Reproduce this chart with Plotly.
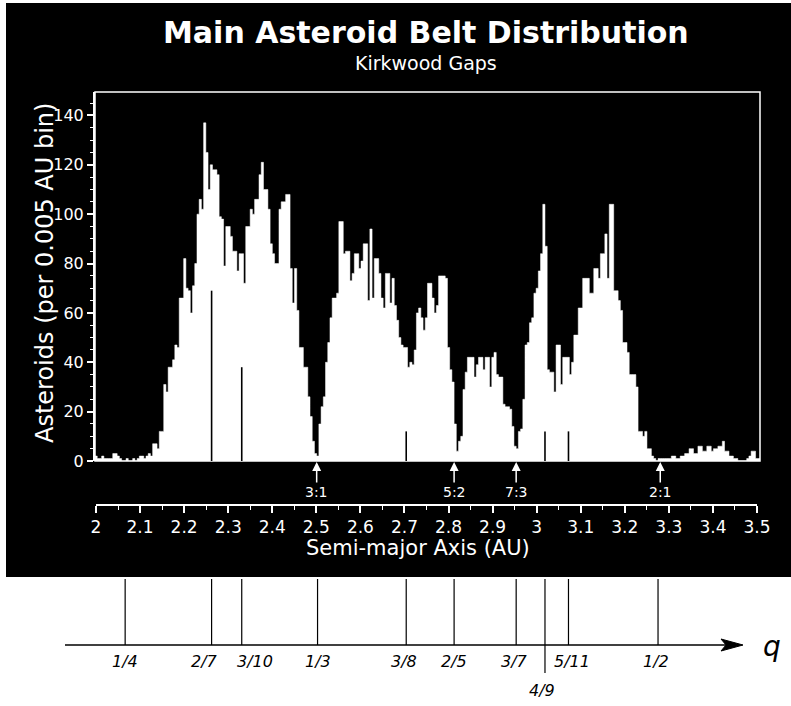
import plotly.graph_objects as go

# ---------------- data ----------------
bin_start = 2.0
bin_width = 0.005
counts = [
    2, 1, 1, 2, 1, 1, 1, 1, 3, 3, 2, 1, 0, 0, 1, 0, 0, 1, 0, 1, 2, 2, 1, 2, 3, 2,
    7, 7, 5, 12, 12, 31, 28, 38, 38, 41, 47, 46, 66, 66, 82, 70, 69, 60, 71, 80, 100, 106, 102, 137, 125,
    110, 120, 118, 118, 116, 99, 98, 79, 95, 95, 91, 85, 85, 77, 84, 84, 72, 95, 95, 102, 100, 106, 106, 116, 121,
    110, 110, 102, 88, 84, 80, 80, 102, 105, 105, 108, 108, 78, 64, 78, 61, 46, 46, 38, 38, 26, 18, 8, 3, 2,
    15, 22, 26, 40, 48, 58, 66, 66, 68, 97, 97, 84, 85, 85, 73, 76, 84, 84, 78, 81, 88, 88, 65, 94, 66,
    82, 82, 76, 66, 62, 76, 76, 64, 74, 63, 57, 50, 47, 46, 46, 38, 40, 39, 45, 60, 62, 58, 53, 58, 72,
    72, 66, 60, 63, 75, 75, 75, 74, 46, 37, 32, 15, 4, 8, 10, 29, 36, 42, 42, 42, 34, 39, 42, 42, 37,
    42, 42, 30, 42, 44, 35, 34, 34, 23, 22, 22, 21, 14, 6, 5, 12, 13, 25, 47, 48, 56, 58, 68, 70, 77,
    84, 104, 87, 37, 36, 36, 28, 47, 47, 31, 42, 42, 42, 35, 40, 51, 51, 62, 62, 74, 74, 74, 68, 68, 78,
    78, 74, 84, 84, 92, 74, 104, 104, 69, 69, 65, 61, 48, 48, 44, 35, 35, 35, 30, 12, 12, 10, 12, 5, 5,
    2, 1, 0, 1, 1, 1, 1, 1, 1, 2, 2, 1, 1, 2, 2, 3, 3, 5, 5, 3, 3, 6, 6, 4, 4,
    6, 6, 4, 5, 5, 6, 6, 8, 4, 4, 2, 2, 1, 1, 0, 0, 0, 0, 1, 2, 4, 4, 1, 1,
]

resonance_labels = ["3:1", "5:2", "7:3", "2:1"]
resonance_a = [2.50, 2.81, 2.95, 3.275]

ratio_labels = ["1/4", "2/7", "3/10", "1/3", "3/8", "2/5", "3/7", "4/9", "5/11", "1/2"]
ratio_a = [2.068, 2.263, 2.331, 2.502, 2.702, 2.810, 2.950, 3.015, 3.068, 3.270]
gap_line_top = [0, 69, 38, 0, 12, 0, 0, 12, 12, 0]

x_tick_vals = [2.0, 2.1, 2.2, 2.3, 2.4, 2.5, 2.6, 2.7, 2.8, 2.9, 3.0, 3.1, 3.2, 3.3, 3.4, 3.5]
x_tick_text = ["2", "2.1", "2.2", "2.3", "2.4", "2.5", "2.6", "2.7", "2.8", "2.9",
               "3", "3.1", "3.2", "3.3", "3.4", "3.5"]
y_tick_vals = [0, 20, 40, 60, 80, 100, 120, 140]

# ---------------- layout helpers ----------------
W, H = 791, 706


def px(x):
    return x / W


def py(y):
    return 1 - y / H


FONT = "DejaVu Sans"
# histogram drawn as a filled step outline (bin left edges + closing edge)
edges = [bin_start + bin_width * i for i in range(len(counts) + 1)]
step_y = counts + [counts[-1]]

fig = go.Figure()
fig.add_trace(go.Scatter(
    x=edges, y=step_y, mode="lines", line=dict(shape="hv", color="white", width=0.5),
    fill="tozeroy", fillcolor="white", hoverinfo="skip", showlegend=False,
))
# invisible trace so the ruler axis is drawn
fig.add_trace(go.Scatter(
    x=[2.0, 3.5], y=[0, 0], xaxis="x2", yaxis="y", mode="lines",
    line=dict(width=0, color="rgba(0,0,0,0)"), hoverinfo="skip", showlegend=False,
))

shapes = []
# black background panel
shapes.append(dict(type="rect", xref="paper", yref="paper", x0=px(6), x1=1.0,
                   y0=py(577), y1=py(3), fillcolor="black", line=dict(width=0), layer="below"))
# plot frame
shapes.append(dict(type="rect", xref="x domain", yref="y domain", x0=0, x1=1, y0=0, y1=1,
                   line=dict(color="white", width=1.5), layer="above"))
# dark gap lines drawn through the histogram
for a, top in zip(ratio_a, gap_line_top):
    if top > 0:
        shapes.append(dict(type="line", xref="x", yref="y", x0=a, x1=a, y0=0, y1=top,
                           line=dict(color="black", width=1.6), layer="above"))
# hand-drawn q axis
shapes.append(dict(type="line", xref="paper", yref="paper", x0=px(65), x1=px(725),
                   y0=py(645), y1=py(645), line=dict(color="black", width=1.5)))
shapes.append(dict(type="path", xref="paper", yref="paper",
                   path=f"M {px(721)},{py(639)} L {px(743)},{py(645)} L {px(721)},{py(651)} L {px(726)},{py(645)} Z",
                   fillcolor="black", line=dict(color="black", width=1)))
for lab, a in zip(ratio_labels, ratio_a):
    bottom = 673 if lab == "4/9" else 645
    shapes.append(dict(type="line", xref="x", yref="paper", x0=a, x1=a,
                       y0=py(bottom), y1=py(579), line=dict(color="black", width=1.2)))


def paper_text(text, x, y, size, color="white", angle=0, weight="normal", style="normal"):
    return dict(text=text, xref="paper", yref="paper", x=px(x), y=py(y),
                xanchor="center", yanchor="middle", showarrow=False, textangle=angle,
                font=dict(family=FONT, size=size, color=color, weight=weight, style=style))


annotations = [
    paper_text("Main Asteroid Belt Distribution", 426, 32, 30, weight="bold"),
    paper_text("Kirkwood Gaps", 426, 63, 19),
    paper_text("Asteroids (per 0.005 AU bin)", 45, 273, 24, angle=-90),
    paper_text("Semi-major Axis (AU)", 418, 548, 21),
    paper_text("q", 772, 646, 28, color="black", style="italic"),
]
for lab, a in zip(resonance_labels, resonance_a):
    annotations.append(dict(text=lab, x=a, y=0, xref="x", yref="y", showarrow=True,
                            ax=0, ay=31, arrowhead=2, arrowsize=1.2, arrowwidth=1.5,
                            arrowcolor="white", standoff=1,
                            font=dict(family=FONT, size=14, color="white")))
label_shift = {"2/7": -7, "3/10": 13, "3/8": -2, "3/7": -2, "4/9": -3, "5/11": 4, "1/2": -2}
for lab, a in zip(ratio_labels, ratio_a):
    yy = 690 if lab == "4/9" else 661
    annotations.append(dict(text=lab, x=a, y=py(yy), xref="x", yref="paper", showarrow=False,
                            xanchor="center", yanchor="middle",
                            xshift=label_shift.get(lab, 0),
                            font=dict(family=FONT, size=16, color="black", style="italic")))

fig.update_layout(
    width=W, height=H,
    margin=dict(l=0, r=0, t=0, b=0),
    paper_bgcolor="white", plot_bgcolor="rgba(0,0,0,0)",
    showlegend=False,
    xaxis=dict(domain=[px(95), px(760)], range=[2.0, 3.5], showticklabels=False,
               ticks="", showline=False, showgrid=False, zeroline=False, automargin=False),
    xaxis2=dict(domain=[px(96), px(757)], range=[2.0, 3.5], anchor="free", position=py(505),
                showline=True, linecolor="white", linewidth=2,
                ticks="outside", ticklen=7, tickwidth=1.5, tickcolor="white",
                tickvals=x_tick_vals, ticktext=x_tick_text,
                tickfont=dict(family=FONT, size=17, color="white"),
                minor=dict(dtick=0.05, tick0=2.0, ticklen=4, tickwidth=1.2, tickcolor="white",
                           ticks="outside", showgrid=False),
                showgrid=False, zeroline=False, automargin=False),
    yaxis=dict(domain=[py(461), py(92)], range=[0, 149.5],
               showline=True, linecolor="white", linewidth=2,
               ticks="outside", ticklen=6, tickwidth=1.5, tickcolor="white",
               tickvals=y_tick_vals,
               tickfont=dict(family=FONT, size=16, color="white"),
               minor=dict(dtick=5, ticklen=3, tickwidth=1, tickcolor="white", ticks="outside",
                          showgrid=False),
               showgrid=False, zeroline=False, automargin=False),
    shapes=shapes,
    annotations=annotations,
)

fig.write_html("out.html", config={"displayModeBar": False},
               post_script="document.body.style.margin='0';")
